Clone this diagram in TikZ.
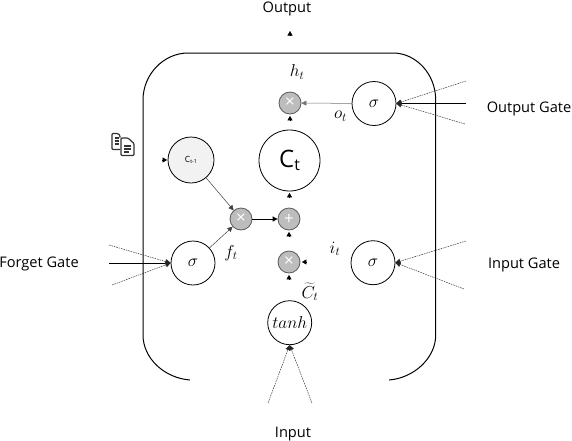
\documentclass[tikz,border=0pt]{standalone}
\usepackage{fontspec}
\setmainfont{Open Sans}
\usetikzlibrary{arrows.meta}
\definecolor{opfill}{gray}{0.74}
\definecolor{opline}{gray}{0.35}
\definecolor{cfill}{gray}{0.95}
\tikzset{
  unit/.style={circle,draw=black,line width=0.8pt,minimum size=44pt,inner sep=0pt,fill=white,font=\fontsize{17.28}{18}\selectfont},
  op/.style={circle,draw=opline,line width=0.8pt,fill=opfill,minimum size=22pt,inner sep=0pt,text=white,font=\fontsize{17}{17}\selectfont},
  lab/.style={inner sep=0pt,font=\fontsize{14.6}{16}\selectfont},
  mlab/.style={inner sep=0pt,font=\fontsize{17.28}{18}\selectfont},
  head/.style={-{Triangle[length=4.5pt,width=5pt]},line width=0.5pt},
  solidl/.style={line width=0.9pt,-{Triangle[length=5pt,width=5pt]}},
  thinl/.style={line width=0.5pt,draw=black!75,-{Triangle[length=5pt,width=5pt]}},
  dashl/.style={line width=0.45pt,draw=black!85,dash pattern=on 1.6pt off 0.9pt,-{Triangle[length=5pt,width=5pt]}},
  frame/.style={line width=1pt}
}
\begin{document}
\begin{tikzpicture}[x=1pt,y=-1pt]
\useasboundingbox (0,0) rectangle (572,440);
% frame
\draw[frame] (190,380) .. controls (164,378) and (143,358) .. (143,335) -- (143,100)
  .. controls (143,74) and (164,53) .. (188,53) -- (393,53)
  .. controls (416,53) and (435.7,74) .. (435.7,100) -- (435.7,335)
  .. controls (435.7,358) and (414,378) .. (389,380);
% circles
\node[unit] (sigO) at (374,103.5) {$\sigma$};
\node[unit] (sigI) at (373,262.7) {$\sigma$};
\node[unit] (sigF) at (193,263) {$\sigma$};
\node[unit] (tanh) at (289.7,322.7) {$tanh$};
\node[unit,minimum size=61pt,font=\fontsize{24}{24}\selectfont] (Ct) at (289.5,160.5) {C\raisebox{-3pt}{\fontsize{16}{16}\selectfont t}};
\node[unit,fill=cfill,minimum size=46pt,font=\fontsize{8.5}{9}\selectfont] (Cp) at (191,160) {C\raisebox{-1.5pt}{\fontsize{5.5}{6}\selectfont t-1}};
\node[op] (mulH) at (290,103) {×};
\node[op] (mulF) at (241,219) {×};
\node[op] (add) at (289,219) {+};
\node[op] (mulI) at (289,262) {×};
% free ends
\coordinate (oG) at (466,103.5);
\coordinate (oGa) at (466,81);
\coordinate (oGb) at (465,124);
\coordinate (iGa) at (466,241);
\coordinate (iGb) at (464,289);
\coordinate (fG) at (109,263);
\coordinate (fGa) at (109,245);
\coordinate (fGb) at (112,285);
\coordinate (inA) at (268,403);
\coordinate (inB) at (312,403);
\coordinate (o0) at (290,36);
\coordinate (o1) at (290,31);
% connectors
\draw[solidl] (oG) -- (sigO.east);
\draw[dashl] (oGa) -- (sigO.east);
\draw[dashl] (oGb) -- (sigO.east);
\draw[dashl] (iGa) -- (sigI.east);
\draw[dashl] (iGb) -- (sigI.east);
\draw[solidl] (fG) -- (sigF.west);
\draw[dashl] (fGa) -- (sigF.west);
\draw[dashl] (fGb) -- (sigF.west);
\draw[dashl] (inA) -- (tanh.south);
\draw[dashl] (inB) -- (tanh.south);
\draw[thinl,draw=black!55] (sigO) -- (mulH);
\draw[thinl] (Cp) -- (mulF);
\draw[thinl] (sigF) -- (mulF);
\draw[solidl] (mulF) -- (add);
% short arrow stubs
\draw[head] (o0) -- (o1);
\draw[head] ([yshift=-6pt]mulH.south) -- ([yshift=-1.5pt]mulH.south);
\draw[head] ([yshift=-6pt]Ct.south) -- ([yshift=-1.5pt]Ct.south);
\draw[head] ([yshift=-6pt]add.south) -- ([yshift=-1.5pt]add.south);
\draw[head] ([yshift=-6pt]mulI.south) -- ([yshift=-1.5pt]mulI.south);
\draw[head] ([xshift=6pt]mulI.east) -- ([xshift=1.5pt]mulI.east);
\draw[head] ([xshift=-5.5pt]Cp.west) -- ([xshift=-0.5pt]Cp.west);
% labels
\node[lab] (tOut) at (287,9) {Output};
\node[lab] (tOG) at (529,109) {Output Gate};
\node[lab] (tIG) at (524,265) {Input Gate};
\node[lab] (tFG) at (39,264) {Forget Gate};
\node[lab] (tIn) at (293,434) {Input};
\node[mlab] (hL) at (297,72) {$h_t$};
\node[mlab] (oL) at (340.5,116) {$o_t$};
\node[mlab] (fL) at (231,253) {$f_t$};
\node[mlab] (iL) at (335,249) {$i_t$};
\node[mlab] (cL) at (310,292) {$\widetilde{C}_t$};
% document icon
\begin{scope}[line width=1.2pt,draw=black!80]
\draw[rounded corners=1pt] (120,149.5) -- (112,149.5) -- (112,133.5) -- (118,133.5) -- (120,135.5) -- (120,137.5);
\draw[rounded corners=1pt] (121,138) -- (128,138) -- (134,143.5) -- (134,155.5) -- (121,155.5) -- cycle;
\draw (114.5,138) -- (118.5,138) (114.5,141) -- (118.5,141) (114.5,144) -- (118.5,144);
\draw (124,146) -- (131,146) (124,149) -- (131,149) (124,152) -- (129,152);
\end{scope}
\end{tikzpicture}
\end{document}
